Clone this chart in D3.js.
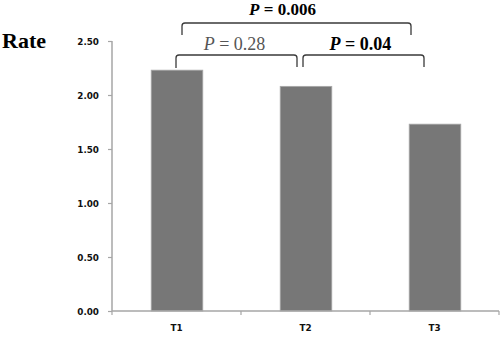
<!DOCTYPE html>
<html><head><meta charset="utf-8">
<script src="https://cdn.jsdelivr.net/npm/d3@7"></script>
<style>body{margin:0;background:#fff}svg{display:block}</style>
</head><body>
<script>
const categories = ["T1", "T2", "T3"];
const values = [2.23, 2.08, 1.73];
const yTicks = [0, 0.5, 1.0, 1.5, 2.0, 2.5];
const comparisons = [
  {from: "T1", to: "T2", label: "0.28", bold: false},
  {from: "T2", to: "T3", label: "0.04", bold: true},
  {from: "T1", to: "T3", label: "0.006", bold: true}
];

const W = 500, H = 342;
const svg = d3.select("body").append("svg").attr("width", W).attr("height", H);

const x = d3.scaleBand().domain(categories).range([112, 499]).padding(0);
const y = d3.scaleLinear().domain([0, 2.5]).range([311, 41]);
const axisColor = "#a6a6a6";

// bars
const bw = x.bandwidth() * 0.4;
svg.selectAll("rect.bar").data(values).join("rect")
  .attr("class", "bar")
  .attr("x", (d, i) => x(categories[i]) + x.bandwidth() / 2 - bw / 2 + 0.5)
  .attr("y", d => y(d))
  .attr("width", bw)
  .attr("height", d => y(0) - y(d))
  .attr("fill", "#777777")
  .attr("stroke", "#a8a8a8")
  .attr("stroke-width", 0.8);

// y axis
const yAxis = d3.axisLeft(y).tickValues(yTicks).tickFormat(d3.format(".2f")).tickSize(4).tickPadding(9);
const gy = svg.append("g").attr("transform", "translate(112,0)").call(yAxis);
gy.select(".domain").attr("stroke", axisColor).attr("stroke-width", 1.5).attr("d", `M0,${y(2.5)}V${y(0)}`);
gy.selectAll(".tick line").attr("stroke", axisColor).attr("stroke-width", 1.2);
gy.selectAll(".tick text").attr("font-family", "DejaVu Sans").attr("font-weight", "bold")
  .attr("font-size", 8.8).attr("fill", "#111").attr("dy", "0.38em");

// x axis
const xAxis = d3.axisBottom(x).tickSize(0).tickPadding(14);
const gx = svg.append("g").attr("transform", `translate(0,${y(0)})`).call(xAxis);
gx.select(".domain").attr("stroke", axisColor).attr("stroke-width", 1.5).attr("d", "M112,0H499");
gx.selectAll(".tick text").attr("font-family", "DejaVu Sans").attr("font-weight", "bold")
  .attr("font-size", 8.8).attr("fill", "#111");
// boundary ticks
const bounds = categories.map(c => x(c)).concat([x.range()[1]]);
gx.selectAll("line.bt").data(bounds).join("line").attr("class", "bt")
  .attr("x1", d => d).attr("x2", d => d).attr("y1", 0).attr("y2", 4)
  .attr("stroke", axisColor).attr("stroke-width", 1.2);

// title
svg.append("text").attr("x", 2).attr("y", 48).text("Rate")
  .attr("font-family", "Liberation Serif").attr("font-weight", "bold").attr("font-size", 22).attr("fill", "#000");

// brackets (layout offsets)
const layout = [
  {dx1: -0.5, dx2: -8.5, top: 55, bot1: 68, bot2: 67, tdx: -2, ty: 50, fs: 18, color: "#555"},
  {dx1: -2.5, dx2: -10.5, top: 55, bot1: 67, bot2: 67, tdx: -3, ty: 50, fs: 18, color: "#000"},
  {dx1: 5.5, dx2: -23.5, top: 23, bot1: 35, bot2: 35, tdx: -14, ty: 15, fs: 17, color: "#000"}
];
const r = 3;
comparisons.forEach((c, i) => {
  const L = layout[i];
  const x1 = x(c.from) + x.bandwidth() / 2 + L.dx1;
  const x2 = x(c.to) + x.bandwidth() / 2 + L.dx2;
  const p = d3.path();
  p.moveTo(x1, L.bot1);
  p.lineTo(x1, L.top + r);
  p.quadraticCurveTo(x1, L.top, x1 + r, L.top);
  p.lineTo(x2 - r, L.top);
  p.quadraticCurveTo(x2, L.top, x2, L.top + r);
  p.lineTo(x2, L.bot2);
  svg.append("path").attr("d", p.toString()).attr("fill", "none")
    .attr("stroke", "#3a3a3a").attr("stroke-width", 1.3);
  const t = svg.append("text").attr("x", (x1 + x2) / 2 + L.tdx).attr("y", L.ty)
    .attr("text-anchor", "middle").attr("font-family", "Liberation Serif")
    .attr("font-size", L.fs).attr("fill", L.color);
  t.append("tspan").attr("font-style", "italic").attr("font-weight", c.bold ? "bold" : "normal").text("P");
  t.append("tspan").attr("font-weight", c.bold ? "bold" : "normal").text(" = " + c.label);
});
</script>
</body></html>
